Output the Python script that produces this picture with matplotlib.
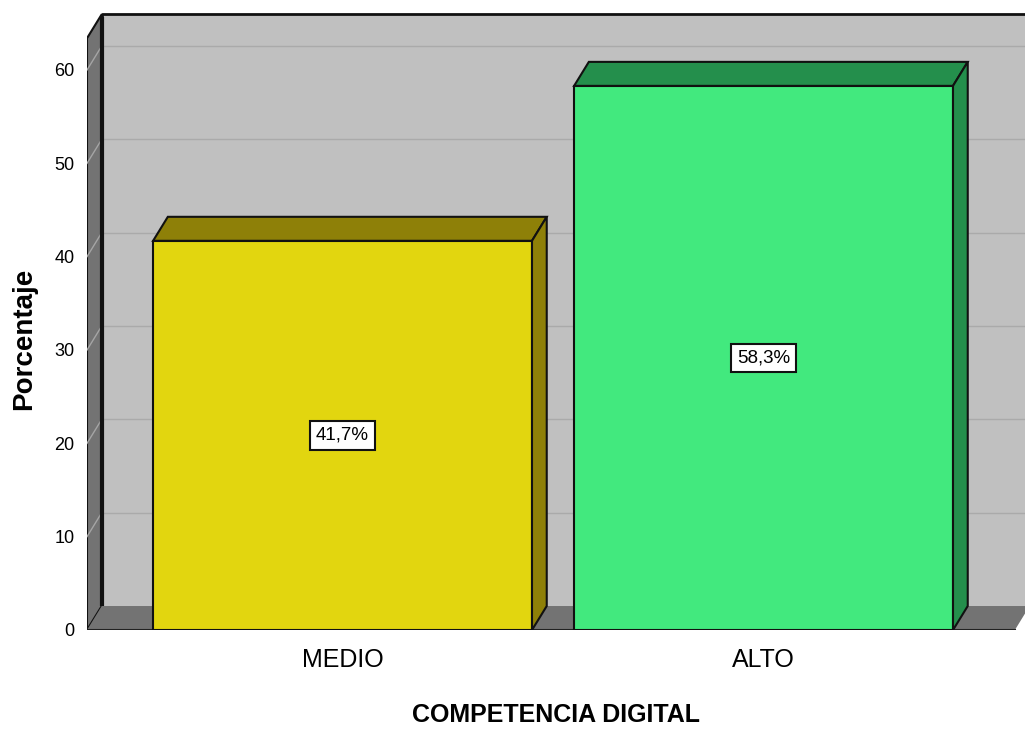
import numpy as np
import matplotlib
matplotlib.use('Agg')
import matplotlib.pyplot as plt
from matplotlib.patches import Polygon, Rectangle

plt.rcParams['font.family'] = ['Liberation Sans', 'DejaVu Sans']

# data
categorias = ["MEDIO", "ALTO"]
porcentajes = [41.7, 58.3]
colores_frente = ["#E2D60F", "#42E97E"]
colores_lado = ["#8E8008", "#248F4C"]
yticks = [0, 10, 20, 30, 40, 50, 60]

# 3D look: depth offsets in data units
DX, DY = 0.035, 2.57
ANCHO = 0.9
X0, XEND = -0.607, 1.597   # front edge of left wall / floor end
YMAX = 63.4                # wall height

fig = plt.figure(figsize=(10.25, 7.32), dpi=100)
ax = fig.add_axes([87 / 1025, 102 / 732, 938 / 1025, 630 / 732])
ax.set_xlim(X0, 1.621)
ax.set_ylim(0, 67.5)
for s in ax.spines.values():
    s.set_visible(False)

# back wall
ax.add_patch(Rectangle((X0 + DX, DY), 3.0, YMAX, facecolor="#C0C0C0",
                       edgecolor="none", zorder=1))
ax.plot([X0 + DX, X0 + DX, 2.0], [DY, YMAX + DY, YMAX + DY], color="#111111",
        lw=2, zorder=2, solid_capstyle='butt')

# left wall
ax.add_patch(Polygon([(X0, 0), (X0, YMAX), (X0 + DX, YMAX + DY), (X0 + DX, DY)],
                     closed=True, facecolor="#737373", edgecolor="#111111",
                     lw=1.5, zorder=2))

# gridlines on the walls
for t in yticks[1:]:
    ax.plot([X0 + DX, 2.0], [t + DY, t + DY], color="#AAAAAA", lw=1, zorder=1.5)
    ax.plot([X0, X0 + DX], [t, t + DY], color="#A5A5A5", lw=1, zorder=2.5)
ax.plot([X0 + DX, X0 + DX], [DY, YMAX + DY - 0.3], color="#111111", lw=3,
        zorder=2.6, solid_capstyle='butt')

# floor
ax.add_patch(Polygon([(X0, 0), (XEND, 0), (XEND + DX, DY), (X0 + DX, DY)],
                     closed=True, facecolor="#737373", edgecolor="none", zorder=3))
ax.plot([X0, XEND], [0, 0], color="#222222", lw=1.5, zorder=3.1)

# bars
for i, (v, cf, cl) in enumerate(zip(porcentajes, colores_frente, colores_lado)):
    izq, der = i - ANCHO / 2, i + ANCHO / 2
    ax.add_patch(Rectangle((izq, 0), ANCHO, v, facecolor=cf,
                           edgecolor="#111111", lw=1.5, zorder=4))
    ax.add_patch(Polygon([(izq, v), (der, v), (der + DX, v + DY), (izq + DX, v + DY)],
                         closed=True, facecolor=cl, edgecolor="#111111",
                         lw=1.5, zorder=4))
    ax.add_patch(Polygon([(der, 0), (der, v), (der + DX, v + DY), (der + DX, DY)],
                         closed=True, facecolor=cl, edgecolor="#111111",
                         lw=1.5, zorder=4))
    etiqueta = f"{v:.1f}%".replace(".", ",")
    ax.text(i, v / 2, etiqueta, ha="center", va="center", fontsize=13.5, zorder=5,
            bbox=dict(boxstyle="square,pad=0.3", facecolor="white",
                      edgecolor="#111111", lw=1.5))

# axes text
ax.set_yticks(yticks)
ax.set_yticklabels([str(t) for t in yticks], fontsize=13)
ax.set_xticks(range(len(categorias)))
ax.set_xticklabels(categorias, fontsize=18)
ax.tick_params(axis="y", length=0, pad=9)
ax.tick_params(axis="x", length=0, pad=13)

ax.set_xlabel("COMPETENCIA DIGITAL", fontsize=18, fontweight="bold", va="center")
ax.xaxis.set_label_coords(0.5, -0.135)
ax.set_ylabel("Porcentaje", fontsize=20, fontweight="bold", va="center")
ax.yaxis.set_label_coords(-0.067, 0.462)

fig.savefig("out.png", dpi=100, facecolor="white")
